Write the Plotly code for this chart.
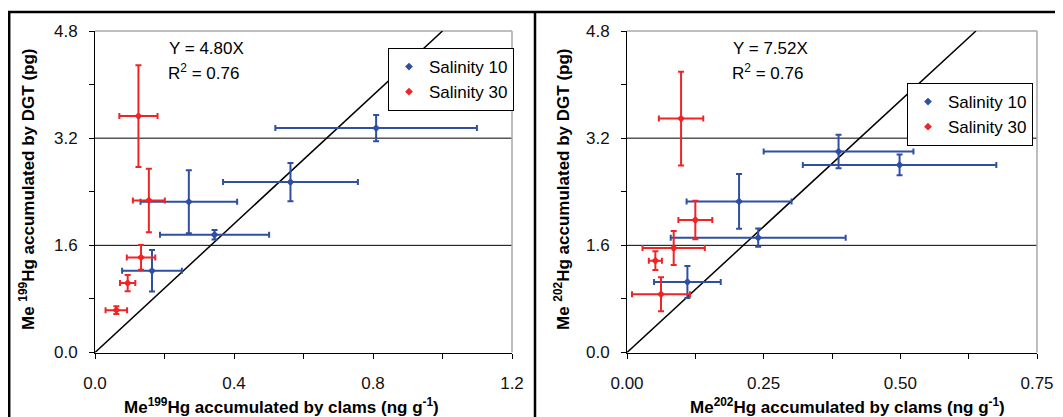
import plotly.graph_objects as go

# page body has an 8px margin, so the figure is drawn at (8, 8)
OFF = 8
W, H = 1063 - OFF, 417 - OFF

# ---------------- data ----------------
# Left panel: Me199Hg
l_s10_x = [0.809, 0.5625, 0.270, 0.344, 0.164]
l_s10_y = [3.35, 2.545, 2.25, 1.758, 1.22]
l_s10_xerr = [0.29, 0.194, 0.139, 0.157, 0.086]
l_s10_yerr = [0.195, 0.285, 0.47, 0.07, 0.31]

l_s30_x = [0.125, 0.155, 0.1325, 0.094, 0.0614]
l_s30_y = [3.53, 2.27, 1.42, 1.036, 0.632]
l_s30_xerr = [0.055, 0.046, 0.041, 0.022, 0.031]
l_s30_yerr = [0.76, 0.475, 0.185, 0.12, 0.057]

# Right panel: Me202Hg
r_s10_x = [0.387, 0.4986, 0.205, 0.240, 0.1105]
r_s10_y = [3.0, 2.80, 2.256, 1.714, 1.053]
r_s10_xerr = [0.137, 0.177, 0.096, 0.160, 0.061]
r_s10_yerr = [0.25, 0.155, 0.41, 0.137, 0.24]

r_s30_x = [0.0989, 0.125, 0.0854, 0.0519, 0.0622]
r_s30_y = [3.493, 1.978, 1.56, 1.371, 0.87]
r_s30_xerr = [0.0406, 0.031, 0.057, 0.012, 0.053]
r_s30_yerr = [0.70, 0.286, 0.253, 0.14, 0.253]

slopes = [4.80, 7.52]
r2 = [0.76, 0.76]
y_max = 4.8
x_max = [1.2, 0.75]
y_ticks = [0.0, 1.6, 3.2, 4.8]
y_ticktext = ["0.0", "1.6", "3.2", "4.8"]
l_x_ticks = [0.0, 0.4, 0.8, 1.2]
l_x_ticktext = ["0.0", "0.4", "0.8", "1.2"]
r_x_ticks = [0.0, 0.25, 0.50, 0.75]
r_x_ticktext = ["0.00", "0.25", "0.50", "0.75"]
grid_vals = [1.6, 3.2]

BLUE = "#2E4FA3"
RED = "#F02424"
FONT = "Arial, Liberation Sans, sans-serif"

def px(x):
    return (x - OFF) / W

def py(y):
    return 1 - (y - OFF) / H

fig = go.Figure()

def add_panel(xs, ys, xe, ye, name, color, xa, ya, legend, show):
    fig.add_trace(go.Scatter(
        x=xs, y=ys, mode="markers", name=name,
        marker=dict(symbol="diamond", size=6, color=color),
        error_x=dict(type="data", array=xe, visible=True, color=color, thickness=2, width=3),
        error_y=dict(type="data", array=ye, visible=True, color=color, thickness=2, width=3),
        xaxis=xa, yaxis=ya, legend=legend, showlegend=show,
    ))

# fit lines
for i, (xa, ya) in enumerate([("x", "y"), ("x2", "y2")]):
    fig.add_trace(go.Scatter(
        x=[0, y_max / slopes[i]], y=[0, y_max], mode="lines",
        line=dict(color="black", width=1.5), showlegend=False,
        xaxis=xa, yaxis=ya, hoverinfo="skip",
    ))

add_panel(l_s10_x, l_s10_y, l_s10_xerr, l_s10_yerr, "Salinity 10", BLUE, "x", "y", "legend", True)
add_panel(l_s30_x, l_s30_y, l_s30_xerr, l_s30_yerr, "Salinity 30", RED, "x", "y", "legend", True)
add_panel(r_s10_x, r_s10_y, r_s10_xerr, r_s10_yerr, "Salinity 10", BLUE, "x2", "y2", "legend2", True)
add_panel(r_s30_x, r_s30_y, r_s30_xerr, r_s30_yerr, "Salinity 30", RED, "x2", "y2", "legend2", True)

ydom = [py(352.5), py(31)]
axis_common = dict(
    showline=True, linecolor="black", linewidth=1, ticks="outside", ticklen=5,
    tickcolor="black", tickwidth=1, showgrid=False, zeroline=False,
    tickfont=dict(family=FONT, size=17, color="#111"), automargin=False,
)

fig.update_layout(
    width=W, height=H,
    margin=dict(l=0, r=0, t=0, b=0),
    paper_bgcolor="white", plot_bgcolor="white",
    font=dict(family=FONT, size=17, color="black"),
    xaxis=dict(domain=[px(95), px(512)], range=[0, x_max[0]], anchor="y",
               tickmode="array", tickvals=l_x_ticks, ticktext=l_x_ticktext,
               minor=dict(dtick=0.2, ticks="outside", ticklen=5, tickcolor="black", showgrid=False),
               ticklabelstandoff=10, **axis_common),
    yaxis=dict(domain=ydom, range=[0, y_max], anchor="x",
               tickmode="array", tickvals=y_ticks, ticktext=y_ticktext,
               minor=dict(dtick=0.8, ticks="outside", ticklen=5, tickcolor="black", showgrid=False),
               ticklabelstandoff=8, **axis_common),
    xaxis2=dict(domain=[px(627), px(1037)], range=[0, x_max[1]], anchor="y2",
                tickmode="array", tickvals=r_x_ticks, ticktext=r_x_ticktext,
                minor=dict(dtick=0.125, ticks="outside", ticklen=5, tickcolor="black", showgrid=False),
                ticklabelstandoff=10, **axis_common),
    yaxis2=dict(domain=ydom, range=[0, y_max], anchor="x2",
                tickmode="array", tickvals=y_ticks, ticktext=y_ticktext,
                minor=dict(dtick=0.8, ticks="outside", ticklen=5, tickcolor="black", showgrid=False),
                ticklabelstandoff=8, **axis_common),
    legend=dict(x=px(514), xanchor="right", y=py(48), yanchor="top",
                bordercolor="black", borderwidth=1, bgcolor="white",
                font=dict(family=FONT, size=17, color="black"), itemwidth=30, tracegroupgap=0),
    legend2=dict(x=px(1033), xanchor="right", y=py(83), yanchor="top",
                 bordercolor="black", borderwidth=1, bgcolor="white",
                 font=dict(family=FONT, size=17, color="black"), itemwidth=30, tracegroupgap=0),
)

shapes = []
for xa, ya in [("x", "y"), ("x2", "y2")]:
    for g in grid_vals:
        shapes.append(dict(type="line", xref=f"{xa} domain", yref=ya, x0=0, x1=1, y0=g, y1=g,
                           line=dict(color="black", width=1), layer="below"))
    shapes.append(dict(type="line", xref=f"{xa} domain", yref=f"{ya} domain", x0=0, x1=1, y0=1, y1=1,
                       line=dict(color="#a8a8a8", width=1.5), layer="below"))
    shapes.append(dict(type="line", xref=f"{xa} domain", yref=f"{ya} domain", x0=1, x1=1, y0=0, y1=1,
                       line=dict(color="#a8a8a8", width=1.5), layer="below"))
# outer frame
shapes.append(dict(type="line", xref="paper", yref="paper", x0=px(8), x1=1, y0=py(12), y1=py(12),
                   line=dict(color="black", width=2.5)))
shapes.append(dict(type="line", xref="paper", yref="paper", x0=px(9.2), x1=px(9.2), y0=py(12), y1=0,
                   line=dict(color="black", width=2.5)))
shapes.append(dict(type="line", xref="paper", yref="paper", x0=px(535), x1=px(535), y0=py(12), y1=0,
                   line=dict(color="black", width=2.5)))
fig.update_layout(shapes=shapes)

ann = []
for cx, iso in [(27, "199"), (562, "202")]:
    ann.append(dict(text=f"<b>Me <sup>{iso}</sup>Hg accumulated by DGT (pg)</b>", xref="paper", yref="paper",
                    x=px(cx), y=py(190), textangle=-90, showarrow=False,
                    xanchor="center", yanchor="middle", font=dict(family=FONT, size=17, color="black")))
for cx, iso in [(281, "199"), (847, "202")]:
    ann.append(dict(text=f"<b>Me<sup>{iso}</sup>Hg accumulated by clams (ng g<sup>-1</sup>)</b>", xref="paper", yref="paper",
                    x=px(cx), y=py(406), showarrow=False,
                    xanchor="center", yanchor="middle", font=dict(family=FONT, size=17, color="black")))
for lx, i in [(167, 0), (731, 1)]:
    ann.append(dict(text=f"Y = {slopes[i]:.2f}X", xref="paper", yref="paper", x=px(lx), y=py(48),
                    showarrow=False, xanchor="left", yanchor="middle",
                    font=dict(family=FONT, size=17, color="black")))
    ann.append(dict(text=f"R<sup>2</sup> = {r2[i]:.2f}", xref="paper", yref="paper", x=px(lx - 1), y=py(72),
                    showarrow=False, xanchor="left", yanchor="middle",
                    font=dict(family=FONT, size=17, color="black")))
fig.update_layout(annotations=ann)

fig.write_html("out.html")
